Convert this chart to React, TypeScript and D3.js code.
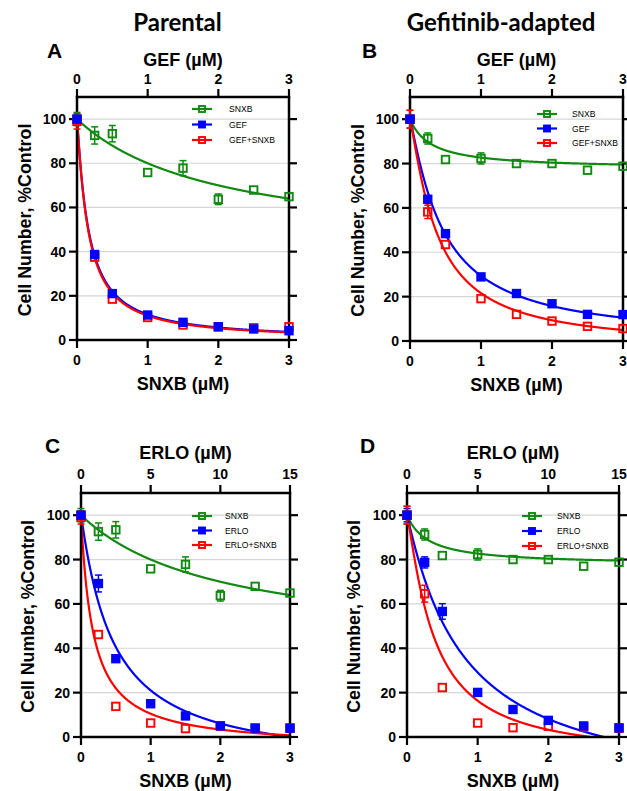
import React from "react";
import * as d3 from "d3";

// ---------- data ----------
const SNXB_DOSE = [0, 0.25, 0.5, 1, 1.5, 2, 2.5, 3];
const SNXB_TICKS = [0, 1, 2, 3];
const GEF_TICKS = [0, 1, 2, 3];
const ERLO_TICKS = [0, 5, 10, 15];
const Y_TICKS = [0, 20, 40, 60, 80, 100];

const panelTitles = ["Parental", "Gefitinib-adapted"];
const panelLetters = ["A", "B", "C", "D"];

// Panel A (parental, gefitinib)
const snxbParental = [100, 92.6, 93.4, 75.8, 77.8, 63.7, 67.9, 64.9];
const snxbParentalErr = [3, 3.9, 3.7, 1.5, 3.4, 2.4, 1, 1];
const gefParental = [100, 38.7, 21, 11.3, 8, 6, 5, 4.2];
const gefParentalErr = [1.5, 1.5, 1, 0.5, 0.5, 0.5, 0.5, 0.5];
const gefSnxbParental = [99, 37.5, 18.5, 10.2, 6.8, 6, 5.5, 6];
const gefSnxbParentalErr = [3.5, 1.5, 1, 0.5, 0.5, 0.5, 0.5, 0.5];

// Panel B (adapted, gefitinib)
const snxbAdapted = [100, 91.3, 81.8, 82.3, 80, 80, 77, 78.8];
const snxbAdaptedErr = [4, 2.5, 1.5, 2.5, 1.8, 1, 1, 1];
const gefAdapted = [100, 63.9, 48.4, 28.9, 21.4, 16.8, 12, 11.9];
const gefAdaptedErr = [2, 1, 1, 1, 0.5, 0.5, 0.5, 0.5];
const gefSnxbAdapted = [100, 58.2, 43.5, 19.1, 12, 9, 6.6, 5.6];
const gefSnxbAdaptedErr = [4, 3, 1, 1, 0.5, 0.5, 0.5, 0.5];

// Panel C (parental, erlotinib)
const erloParental = [100, 69.2, 35.3, 15, 9.5, 5, 4, 4];
const erloParentalErr = [2, 3.8, 1, 0.5, 0.5, 0.5, 0.5, 0.5];
const erloSnxbParental = [99, 46.2, 13.8, 6.3, 3.8, 5, 4, 4];
const erloSnxbParentalErr = [3, 1, 0.5, 0.5, 0.5, 0.5, 0.5, 0.5];

// Panel D (adapted, erlotinib)
const erloAdapted = [100, 78.7, 56.6, 20.1, 12.4, 7.5, 5, 4.1];
const erloAdaptedErr = [3, 2.5, 3.5, 0.5, 0.5, 0.5, 0.5, 0.5];
const erloSnxbAdapted = [100, 64.6, 22.3, 6.3, 4.2, 4.8, 4.5, 4];
const erloSnxbAdaptedErr = [4, 3.8, 1, 0.5, 0.5, 0.5, 0.5, 0.5];

// fitted dose-response curves: [top, bottom, EC50 (SNXB-axis units), hill]
const fitSnxbParental = [100, 40, 2, 1];
const fitGefParental = [100, 0, 0.162, 1.12];
const fitGefSnxbParental = [100, 0, 0.157, 1.13];
const fitSnxbAdapted = [100, 77.5, 0.3, 1];
const fitGefAdapted = [100, 0, 0.466, 1.15];
const fitGefSnxbAdapted = [100, -3, 0.38, 1.2];
const fitErloParental = [100, -14, 0.461, 1.05];
const fitErloSnxbParental = [100, -5, 0.173, 1.0];
const fitErloAdapted = [100, -27, 0.8, 1.05];
const fitErloSnxbAdapted = [100, -10, 0.382, 1.2];

// ---------- styles ----------
const GREEN = "#108a10";
const BLUE = "#0000ff";
const RED = "#ff0000";
const AX_FONT = "'Liberation Sans', Arial, sans-serif";

type Series = { name: string; color: string; filled: boolean; y: number[]; err: number[]; fit: number[] };

const panels = [
  {
    letter: panelLetters[0], x0: 77, x1: 289, yTop: 97, yBot: 340, topLabel: "GEF (µM)", topMax: 3, topTicks: GEF_TICKS,
    topTickDy: -13.5, topTitleDy: -31, legend: { x: 202, y: 109, tx: 229, dy: 15.5 }, letterPos: [47, 58], ylabX: 31,
    series: [
      { name: "SNXB", color: GREEN, filled: false, y: snxbParental, err: snxbParentalErr, fit: fitSnxbParental },
      { name: "GEF", color: BLUE, filled: true, y: gefParental, err: gefParentalErr, fit: fitGefParental },
      { name: "GEF+SNXB", color: RED, filled: false, y: gefSnxbParental, err: gefSnxbParentalErr, fit: fitGefSnxbParental },
    ] as Series[],
  },
  {
    letter: panelLetters[1], x0: 410, x1: 623, yTop: 97, yBot: 341, topLabel: "GEF (µM)", topMax: 3, topTicks: GEF_TICKS,
    topTickDy: -13.5, topTitleDy: -31, legend: { x: 547, y: 114, tx: 572, dy: 14.5 }, letterPos: [362, 58], ylabX: 364,
    series: [
      { name: "SNXB", color: GREEN, filled: false, y: snxbAdapted, err: snxbAdaptedErr, fit: fitSnxbAdapted },
      { name: "GEF", color: BLUE, filled: true, y: gefAdapted, err: gefAdaptedErr, fit: fitGefAdapted },
      { name: "GEF+SNXB", color: RED, filled: false, y: gefSnxbAdapted, err: gefSnxbAdaptedErr, fit: fitGefSnxbAdapted },
    ] as Series[],
  },
  {
    letter: panelLetters[2], x0: 81, x1: 290, yTop: 493, yBot: 737, topLabel: "ERLO (µM)", topMax: 15, topTicks: ERLO_TICKS,
    topTickDy: -14.5, topTitleDy: -34.5, legend: { x: 202, y: 516, tx: 225, dy: 14.5 }, letterPos: [45, 453], ylabX: 34,
    series: [
      { name: "SNXB", color: GREEN, filled: false, y: snxbParental, err: snxbParentalErr, fit: fitSnxbParental },
      { name: "ERLO", color: BLUE, filled: true, y: erloParental, err: erloParentalErr, fit: fitErloParental },
      { name: "ERLO+SNXB", color: RED, filled: false, y: erloSnxbParental, err: erloSnxbParentalErr, fit: fitErloSnxbParental },
    ] as Series[],
  },
  {
    letter: panelLetters[3], x0: 407, x1: 619, yTop: 493, yBot: 737, topLabel: "ERLO (µM)", topMax: 15, topTicks: ERLO_TICKS,
    topTickDy: -14.5, topTitleDy: -34.5, legend: { x: 532, y: 516, tx: 557, dy: 15 }, letterPos: [360, 453], ylabX: 360,
    series: [
      { name: "SNXB", color: GREEN, filled: false, y: snxbAdapted, err: snxbAdaptedErr, fit: fitSnxbAdapted },
      { name: "ERLO", color: BLUE, filled: true, y: erloAdapted, err: erloAdaptedErr, fit: fitErloAdapted },
      { name: "ERLO+SNXB", color: RED, filled: false, y: erloSnxbAdapted, err: erloSnxbAdaptedErr, fit: fitErloSnxbAdapted },
    ] as Series[],
  },
];

function fourPL(p: number[], x: number) {
  const [top, bottom, ec50, hill] = p;
  return bottom + (top - bottom) / (1 + Math.pow(x / ec50, hill));
}

const MS = 7.5; // marker size

function Marker({ cx, cy, color, filled, size = MS }: any) {
  return (
    <rect
      x={cx - size / 2}
      y={cy - size / 2}
      width={size}
      height={size}
      fill={filled ? color : "none"}
      stroke={color}
      strokeWidth={1.9}
    />
  );
}

function Panel({ p, idx }: any) {
  const x = d3.scaleLinear().domain([0, 3]).range([p.x0, p.x1]);
  const xTop = d3.scaleLinear().domain([0, p.topMax]).range([p.x0, p.x1]);
  const y = d3.scaleLinear().domain([0, 110]).range([p.yBot, p.yTop]);
  const clipId = `clip${idx}`;
  const xs = d3.range(0, 3.0001, 0.005);
  const order = [0, 1, 2];
  const markerOrder = [0, 2, 1];
  const tick = 8;
  return (
    <g>
      <defs>
        <clipPath id={clipId}>
          <rect x={p.x0} y={p.yTop} width={p.x1 - p.x0} height={p.yBot - p.yTop} />
        </clipPath>
      </defs>
      {/* gridlines */}
      {Y_TICKS.filter((t) => t > 0).map((t) => (
        <line key={t} x1={p.x0} x2={p.x1} y1={y(t)} y2={y(t)} stroke="#d6d6d6" strokeWidth={1.2} />
      ))}
      {/* curves */}
      <g clipPath={`url(#${clipId})`}>
        {order.map((i) => {
          const s = p.series[i];
          const path = d3
            .line<number>()
            .x((d) => x(d))
            .y((d) => y(fourPL(s.fit, d)))(xs);
          return <path key={i} d={path || ""} fill="none" stroke={s.color} strokeWidth={2.2} />;
        })}
      </g>
      {/* axes */}
      <g stroke="#000" fill="none">
        <line x1={p.x0} x2={p.x0} y1={p.yTop} y2={p.yBot} strokeWidth={2.5} />
        <line x1={p.x1} x2={p.x1} y1={p.yTop} y2={p.yBot} strokeWidth={2.5} />
        <line x1={p.x0 - 1.25} x2={p.x1 + 1.25} y1={p.yTop} y2={p.yTop} strokeWidth={2.5} />
        <line x1={p.x0 - 1.25} x2={p.x1 + 1.25} y1={p.yBot} y2={p.yBot} strokeWidth={2.5} />
        {Y_TICKS.map((t) => (
          <g key={t}>
            <line x1={p.x0 - tick} x2={p.x0} y1={y(t)} y2={y(t)} strokeWidth={2.2} />
            <line x1={p.x1} x2={p.x1 + tick} y1={y(t)} y2={y(t)} strokeWidth={2.2} />
          </g>
        ))}
        {SNXB_TICKS.map((t) => (
          <line key={t} x1={x(t)} x2={x(t)} y1={p.yBot} y2={p.yBot + tick} strokeWidth={2.2} />
        ))}
        {p.topTicks.map((t: number) => (
          <line key={t} x1={xTop(t)} x2={xTop(t)} y1={p.yTop} y2={p.yTop - tick} strokeWidth={2.2} />
        ))}
      </g>
      {/* tick labels */}
      <g fontFamily={AX_FONT} fontWeight="bold" fontSize={14} fill="#000">
        {Y_TICKS.map((t) => (
          <text key={t} x={p.x0 - 11} y={y(t) + 5} textAnchor="end">
            {t}
          </text>
        ))}
        {SNXB_TICKS.map((t) => (
          <text key={t} x={x(t)} y={p.yBot + 25} textAnchor="middle">
            {t}
          </text>
        ))}
        {p.topTicks.map((t: number) => (
          <text key={t} x={xTop(t)} y={p.yTop + p.topTickDy} textAnchor="middle">
            {t}
          </text>
        ))}
      </g>
      {/* axis titles */}
      <g fontFamily={AX_FONT} fontWeight="bold" fontSize={18} fill="#000">
        <text x={(p.x0 + p.x1) / 2} y={p.yBot + 50} textAnchor="middle">
          SNXB (µM)
        </text>
        <text x={(p.x0 + p.x1) / 2} y={p.yTop + p.topTitleDy} textAnchor="middle">
          {p.topLabel}
        </text>
        <text
          transform={`translate(${p.ylabX},${(p.yTop + p.yBot) / 2 + 1.5}) rotate(-90)`}
          textAnchor="middle"
          fontSize={17.8}
        >
          Cell Number, %Control
        </text>
      </g>
      <text x={p.letterPos[0]} y={p.letterPos[1]} fontFamily={AX_FONT} fontWeight="bold" fontSize={21}>
        {p.letter}
      </text>
      {/* error bars (only the parts that reach beyond the symbol are visible) */}
      {order.map((i) => {
        const s = p.series[i];
        return (
          <g key={i} stroke={s.color} strokeWidth={1.5}>
            {SNXB_DOSE.map((d, j) => {
              const cx = x(d);
              const cy = y(s.y[j]);
              const hi = y(s.y[j] + s.err[j]);
              const lo = y(s.y[j] - s.err[j]);
              if (cy - hi <= MS / 2 + 1) return null;
              return (
                <g key={j}>
                  <line x1={cx} x2={cx} y1={hi} y2={lo} />
                  <line x1={cx - 3.5} x2={cx + 3.5} y1={hi} y2={hi} />
                  <line x1={cx - 3.5} x2={cx + 3.5} y1={lo} y2={lo} />
                </g>
              );
            })}
          </g>
        );
      })}
      {/* markers */}
      {markerOrder.map((i) => {
        const s = p.series[i];
        return (
          <g key={i}>
            {SNXB_DOSE.map((d, j) => (
              <Marker key={j} cx={x(d)} cy={y(s.y[j])} color={s.color} filled={s.filled} />
            ))}
          </g>
        );
      })}
      {/* legend */}
      {p.series.map((s: Series, i: number) => {
        const ly = p.legend.y + i * p.legend.dy;
        return (
          <g key={s.name}>
            <line x1={p.legend.x - 10} x2={p.legend.x + 10} y1={ly} y2={ly} stroke={s.color} strokeWidth={2.2} />
            <Marker cx={p.legend.x} cy={ly} color={s.color} filled={s.filled} size={6} />
            <text x={p.legend.tx} y={ly + 3} fontFamily={AX_FONT} fontSize={8.6} fill="#000">
              {s.name}
            </text>
          </g>
        );
      })}
    </g>
  );
}

export default function App() {
  return (
    <svg
      width={627}
      height={791}
      style={{ position: "absolute", left: 0, top: 0, display: "block", background: "#fff" }}
    >
      <rect width={627} height={791} fill="#fff" />
      <text x={177.5} y={31} textAnchor="middle" fontFamily="Lato, 'Open Sans', sans-serif" fontWeight="bold" fontSize={24}>
        {panelTitles[0]}
      </text>
      <text x={501} y={31} textAnchor="middle" fontFamily="Lato, 'Open Sans', sans-serif" fontWeight="bold" fontSize={24}>
        {panelTitles[1]}
      </text>
      {panels.map((p, i) => (
        <Panel key={i} p={p} idx={i} />
      ))}
    </svg>
  );
}
